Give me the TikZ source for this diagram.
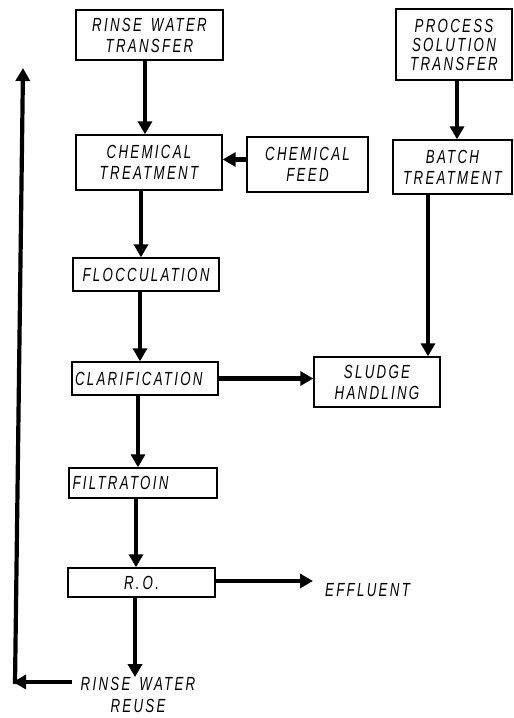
\documentclass[tikz,border=0pt]{standalone}
\usepackage{fontspec}
\newfontfamily\lbl{Liberation Sans Italic}[FakeStretch=0.7, LetterSpace=12]
\newcommand{\gap}{\hspace{9pt}}
\usetikzlibrary{arrows.meta,calc}
\tikzset{
  box/.style={draw, line width=1.4pt, inner sep=0pt, align=center,
    font=\lbl\fontsize{19}{21}\selectfont},
  lbltext/.style={inner sep=0pt, align=center, font=\lbl\fontsize{19}{22}\selectfont},
  flow/.style={line width=4.2pt, -{Triangle[width=14pt,length=13pt]}},
}
\begin{document}
\begin{tikzpicture}[x=1pt,y=-1pt]
\useasboundingbox (0,0) rectangle (514,718);
\node[box, minimum width=147pt, minimum height=50pt] (rwt) at (149.5,35) {RINSE\gap WATER\\TRANSFER};
\node[box, minimum width=146pt, minimum height=55pt] (chem) at (149,162.5) {CHEMICAL\\TREATMENT};
\node[box, minimum width=121pt, minimum height=55pt] (feed) at (307.5,164.5) {CHEMICAL\\FEED};
\node[box, minimum width=116pt, minimum height=71pt, font=\lbl\fontsize{19}{19}\selectfont] (pst) at (454,44.5) {PROCESS\\SOLUTION\\TRANSFER};
\node[box, minimum width=119pt, minimum height=54pt] (batch) at (452.5,167) {BATCH\\TREATMENT};
\node[box, minimum width=146pt, minimum height=33pt] (floc) at (146,274.5) {FLOCCULATION};
\node[box, minimum width=146pt, minimum height=33pt, text width=140pt, align=left] (clar) at (145,378.5) {CLARIFICATION};
\node[box, minimum width=126pt, minimum height=50pt] (sludge) at (377,382) {SLUDGE\\HANDLING};
\node[box, minimum width=148pt, minimum height=30pt, text width=141pt, align=left] (filt) at (143,483) {FILTRATOIN};
\node[box, minimum width=147pt, minimum height=29pt] (ro) at (141.5,582.5) {R.\hspace{3pt}O.};
\node[lbltext, anchor=west] (eff) at (325,590) {EFFLUENT};
\node[lbltext] (reuse) at (138,695) {RINSE\gap WATER\\REUSE};
\coordinate (corner) at (15,682);
\coordinate (top) at (23,68);

\draw[flow] ([xshift=-4.5pt]rwt.south) -- ([xshift=-4.5pt]rwt.south |- chem.north);
\draw[flow] ([yshift=5pt]feed.west) -- ([yshift=5pt]feed.west -| chem.east);
\draw[flow] ([xshift=-8pt]chem.south) -- ([xshift=-8pt]chem.south |- floc.north);
\draw[flow] ([xshift=-6pt]floc.south) -- ([xshift=-6pt]floc.south |- clar.north);
\draw[flow] (clar.east) -- (clar.east -| sludge.west);
\draw[flow] ([xshift=3pt]pst.south) -- ([xshift=3pt]pst.south |- batch.north);
\draw[flow] ([xshift=-24.5pt]batch.south) -- ([xshift=-24.5pt]batch.south |- sludge.north);
\draw[flow] ([xshift=-7pt]clar.south) -- ([xshift=-7pt]clar.south |- filt.north);
\draw[flow] ([xshift=-7pt]filt.south) -- ([xshift=-7pt]filt.south |- ro.north);
\draw[flow] ([yshift=1.5pt]ro.east) -- ([yshift=1.5pt,xshift=-12pt]ro.east -| eff.west);
\draw[flow] ([xshift=-6.5pt]ro.south) -- ([xshift=-6.5pt]ro.south |- reuse.north);
\draw[flow] ([xshift=-8pt]reuse.west |- corner) -- ([xshift=-2pt]corner);
\draw[flow] ([yshift=-2pt]corner) -- (top);
\end{tikzpicture}
\end{document}
